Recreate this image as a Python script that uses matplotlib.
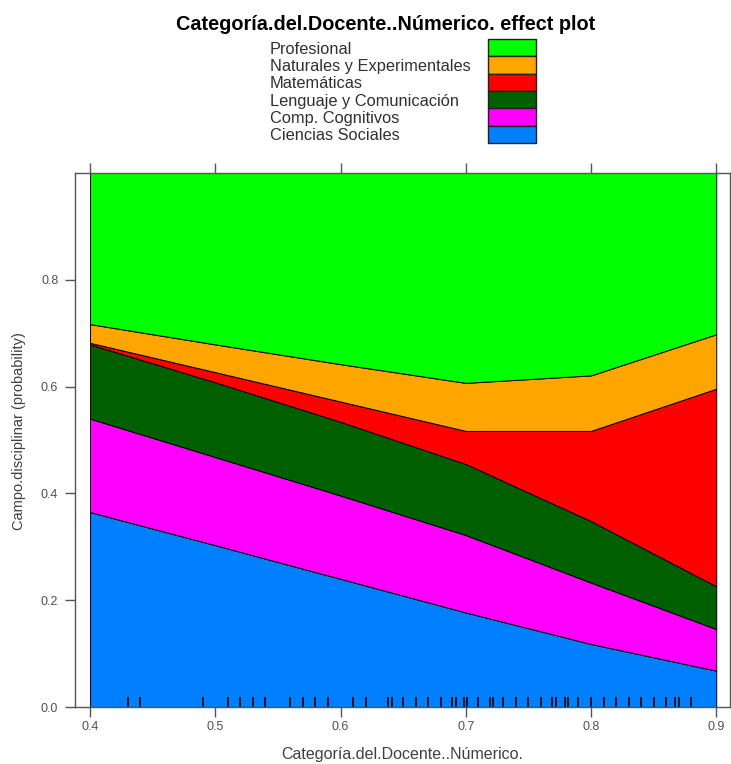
import numpy as np
import matplotlib
matplotlib.use("Agg")
import matplotlib.pyplot as plt
from matplotlib.patches import Rectangle

plt.rcParams['font.family'] = ['Liberation Sans', 'DejaVu Sans']

# valores del predictor (grilla del effect plot)
x_vals = [0.4, 0.5, 0.6, 0.7, 0.8, 0.9]

# probabilidades por categoría (de abajo hacia arriba en el apilado)
p_ciencias = [0.365, 0.303, 0.240, 0.177, 0.118, 0.068]
p_comp = [0.175, 0.165, 0.156, 0.145, 0.115, 0.078]
p_lenguaje = [0.139, 0.140, 0.138, 0.133, 0.115, 0.080]
p_matematicas = [0.003, 0.019, 0.038, 0.062, 0.169, 0.370]
p_naturales = [0.035, 0.052, 0.070, 0.090, 0.104, 0.102]
p_profesional = [0.283, 0.321, 0.358, 0.393, 0.379, 0.302]

categorias = ["Ciencias Sociales", "Comp. Cognitivos", "Lenguaje y Comunicación",
              "Matemáticas", "Naturales y Experimentales", "Profesional"]
colores = ["#0080FF", "#FF00FF", "#006000", "#FF0000", "#FFA500", "#00FF00"]

# rug de observaciones
rug_x = [0.43, 0.44, 0.49, 0.51, 0.52, 0.53, 0.54, 0.56, 0.57, 0.58, 0.59,
         0.61, 0.62, 0.638, 0.641, 0.65, 0.66, 0.67, 0.68, 0.689, 0.692,
         0.699, 0.701, 0.71, 0.719, 0.722, 0.73, 0.74, 0.75, 0.76, 0.769,
         0.772, 0.779, 0.782, 0.79, 0.80, 0.81, 0.82, 0.83, 0.84, 0.85,
         0.86, 0.867, 0.87, 0.88]

y_ticks = [0.0, 0.2, 0.4, 0.6, 0.8]
x_ticks = [0.4, 0.5, 0.6, 0.7, 0.8, 0.9]

fig = plt.figure(figsize=(7.31, 7.64), dpi=100)
ax = fig.add_axes([75 / 731, 1 - 707 / 764, 655 / 731, 534 / 764])

series = [p_ciencias, p_comp, p_lenguaje, p_matematicas, p_naturales, p_profesional]
ax.stackplot(x_vals, *series, colors=colores, edgecolor="black", linewidth=0.7)
ax.vlines(rug_x, 0, 0.019, color="black", linewidth=1.2)

ax.set_xlim(0.388, 0.911)
ax.set_ylim(0, 1)
ax.set_xticks(x_ticks)
ax.set_yticks(y_ticks)
ax.set_xticklabels([f"{v:.1f}" for v in x_ticks])
ax.set_yticklabels([f"{v:.1f}" for v in y_ticks])
ax.tick_params(direction="out", length=7, width=1, colors="#555555",
               labelcolor="#505050", labelsize=9, top=True, right=False,
               labeltop=False)
ax.tick_params(axis="x", pad=3)
ax.tick_params(axis="y", pad=5)
for s in ax.spines.values():
    s.set_color("#555555")
    s.set_linewidth(1)

ax.set_xlabel("Categoría.del.Docente..Númerico.", fontsize=11.5, color="#404040")
ax.set_ylabel("Campo.disciplinar (probability)", fontsize=10.5, color="#404040")
ax.xaxis.set_label_coords(0.5, -0.075)
ax.yaxis.set_label_coords(-0.075, 0.517)

fig.text(386 / 731, 1 - 25 / 764, "Categoría.del.Docente..Númerico. effect plot",
         ha="center", va="center", fontsize=14.3, fontweight="bold", color="black")

# leyenda manual
row_h = 17.33
top_px = 39
for i, (lab, col) in enumerate(zip(categorias[::-1], colores[::-1])):
    y0 = top_px + i * row_h
    fig.text(270 / 731, 1 - (y0 + row_h / 2 + 1.5) / 764, lab, ha="left", va="center",
             fontsize=11.8, color="#303030")
    fig.patches.append(Rectangle((488 / 731, 1 - (y0 + row_h) / 764), 48 / 731, row_h / 764,
                                 transform=fig.transFigure, facecolor=col,
                                 edgecolor="#202020", linewidth=1))

fig.savefig("out.png", dpi=100)
